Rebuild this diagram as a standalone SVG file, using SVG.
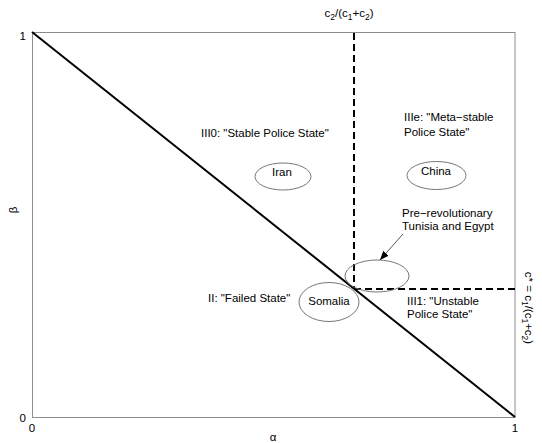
<svg xmlns="http://www.w3.org/2000/svg" width="542" height="443" viewBox="0 0 542 443">
<style>
text{font-family:"Liberation Sans",Arial,sans-serif;font-size:11.5px;fill:#000}
.box{fill:none;stroke:#8c8c8c;stroke-width:1}
.diag{stroke:#000;stroke-width:2;fill:none}
.dash{stroke:#000;stroke-width:2;stroke-dasharray:7,4;fill:none}
.ell{fill:none;stroke:#777;stroke-width:1}
.conn{stroke:#555;stroke-width:1;fill:none}
.mid{text-anchor:middle}
</style>
<defs>
<marker id="ah" viewBox="0 0 10 10" refX="10" refY="5" markerWidth="9" markerHeight="9" markerUnits="userSpaceOnUse" orient="auto">
<path d="M0,1 L10,5 L0,9 z" fill="#000"/>
</marker>
</defs>
<rect width="542" height="443" fill="#fff"/>
<g id="axes">
<rect class="box" x="32.5" y="32.5" width="482.5" height="385"/>
<text x="26" y="40" text-anchor="end">1</text>
<text x="26" y="422" text-anchor="end">0</text>
<text x="32" y="432" class="mid">0</text>
<text x="515" y="432" class="mid">1</text>
<text x="273" y="441" class="mid">α</text>
<text transform="translate(17,210) rotate(-90)" class="mid">β</text>
<text x="349" y="17" class="mid">c<tspan font-size="8.5" dy="3">2</tspan><tspan dy="-3">/(c</tspan><tspan font-size="8.5" dy="3">1</tspan><tspan dy="-3">+c</tspan><tspan font-size="8.5" dy="3">2</tspan><tspan dy="-3">)</tspan></text>
<text transform="translate(525,308) rotate(90)" class="mid">c* = c<tspan font-size="8.5" dy="3">1</tspan><tspan dy="-3">/(c</tspan><tspan font-size="8.5" dy="3">1</tspan><tspan dy="-3">+c</tspan><tspan font-size="8.5" dy="3">2</tspan><tspan dy="-3">)</tspan></text>
</g>
<g id="boundaries">
<line class="diag" x1="32" y1="32" x2="515" y2="417"/>
<line class="dash" x1="354" y1="33" x2="354" y2="289"/>
<line class="dash" x1="354" y1="289" x2="515" y2="289"/>
</g>
<g id="region-III0"><text x="201" y="137">III0: "Stable Police State"</text></g>
<g id="region-IIIe"><text x="404" y="121">IIIe: "Meta−stable</text><text x="404" y="136">Police State"</text></g>
<g id="region-II"><text x="208" y="302">II: "Failed State"</text></g>
<g id="region-III1"><text x="407" y="305">III1: "Unstable</text><text x="407" y="318">Police State"</text></g>
<g id="node-iran"><ellipse class="ell" cx="283" cy="176.5" rx="28" ry="13.5"/><text x="282" y="176" class="mid">Iran</text></g>
<g id="node-china"><ellipse class="ell" cx="436.5" cy="175.5" rx="29.5" ry="14"/><text x="436" y="175" class="mid">China</text></g>
<g id="node-prerev"><ellipse class="ell" cx="377" cy="276" rx="32" ry="16"/></g>
<g id="label-prerev"><text x="402" y="217">Pre−revolutionary</text><text x="402" y="230">Tunisia and Egypt</text></g>
<g id="node-somalia"><ellipse class="ell" cx="329" cy="302" rx="30" ry="19.5"/><text x="329" y="305" class="mid">Somalia</text></g>
<g id="connectors">
<line class="conn" x1="403" y1="234" x2="380" y2="260" marker-end="url(#ah)"/>
</g>
</svg>
